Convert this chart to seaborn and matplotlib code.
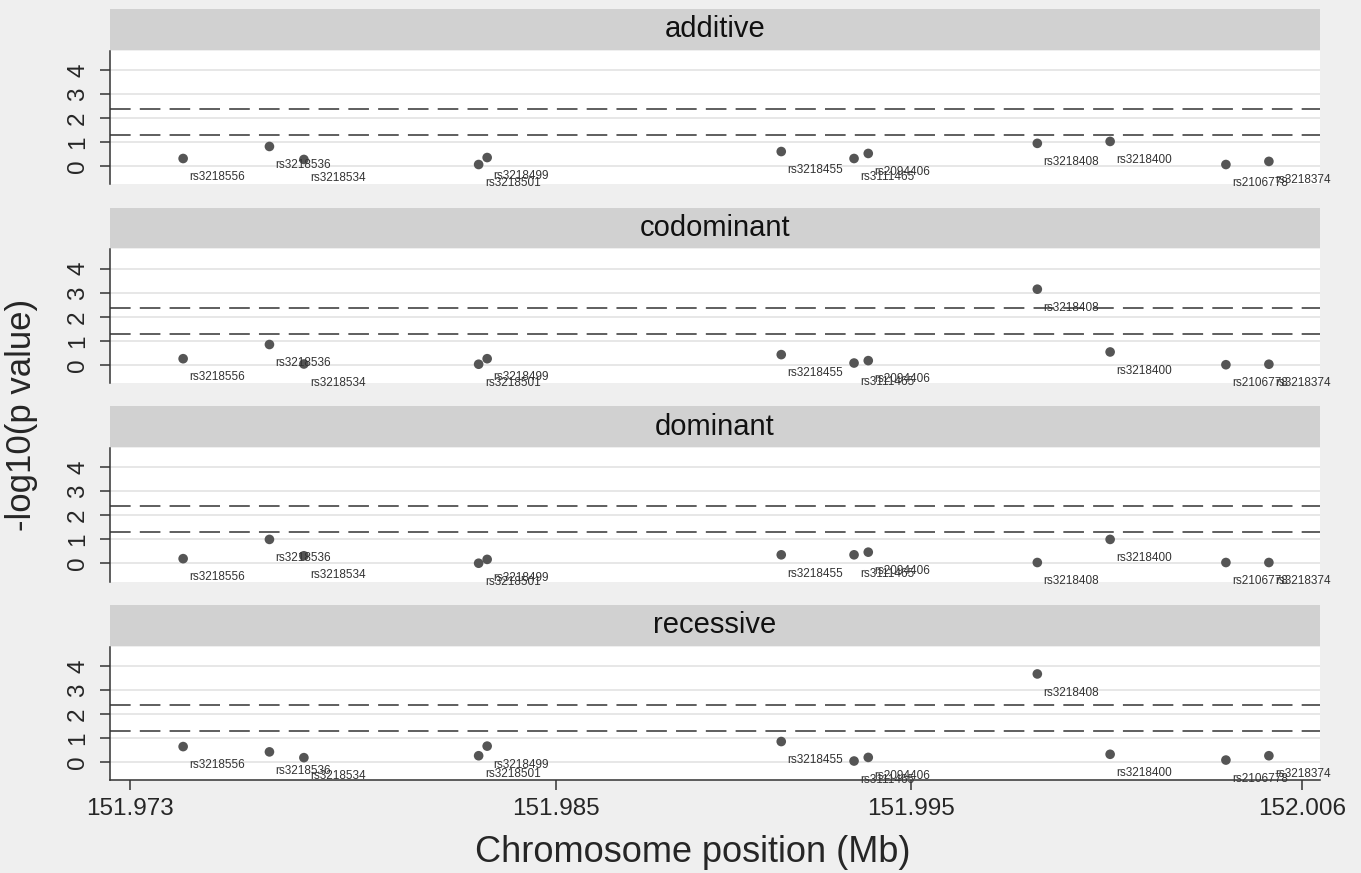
import numpy as np
import pandas as pd
import seaborn as sns
import matplotlib.pyplot as plt
from matplotlib.patches import Rectangle

snps = ['rs3218556', 'rs3218536', 'rs3218534', 'rs3218501', 'rs3218499', 'rs3218455',
        'rs3111465', 'rs2094406', 'rs3218408', 'rs3218400', 'rs2106778', 'rs3218374']
pos_mb = [151.97450, 151.97693, 151.97790, 151.98282, 151.98306, 151.99134,
          151.99339, 151.99379, 151.99855, 152.00060, 152.00386, 152.00507]

models = ['additive', 'codominant', 'dominant', 'recessive']
additive = [0.33, 0.83, 0.29, 0.08, 0.37, 0.62, 0.33, 0.54, 0.96, 1.04, 0.08, 0.21]
codominant = [0.26, 0.85, 0.04, 0.03, 0.26, 0.43, 0.08, 0.18, 3.15, 0.54, 0.01, 0.03]
dominant = [0.20, 1.00, 0.32, 0.01, 0.17, 0.36, 0.36, 0.47, 0.04, 1.00, 0.04, 0.04]
recessive = [0.64, 0.42, 0.18, 0.26, 0.66, 0.85, 0.04, 0.19, 3.66, 0.32, 0.08, 0.26]

thresholds = [1.30, 2.38]
x_ticks = [151.973, 151.985, 151.995, 152.006]
y_ticks = [0, 1, 2, 3, 4]

frames = []
for name, vals in zip(models, [additive, codominant, dominant, recessive]):
    frames.append(pd.DataFrame({'model': name, 'snp': snps, 'pos': pos_mb, 'logp': vals}))
df = pd.concat(frames, ignore_index=True)

sns.set_style('white')
plt.rcParams['font.family'] = ['Liberation Sans', 'DejaVu Sans']

g = sns.FacetGrid(df, row='model', row_order=models, sharex=True, sharey=True,
                  height=2.0, aspect=6.5, despine=False)
g.map_dataframe(sns.scatterplot, x='pos', y='logp', color='#555555', s=48,
                edgecolor='none', zorder=4)
g.set_axis_labels('', '')

fig = g.figure
fig.set_facecolor('#efefef')

for i, (ax, name) in enumerate(zip(g.axes.flat, models)):
    sub = df[df['model'] == name]
    ax.set_title('')
    ax.set_facecolor('white')
    ax.set_xlim(151.97244, 152.00651)
    ax.set_ylim(-0.75, 4.8)
    ax.set_yticks(y_ticks)
    ax.set_yticklabels([str(t) for t in y_ticks])
    ax.grid(axis='y', color='#e3e3e3', lw=1.2, zorder=0)
    ax.grid(axis='x', visible=False)
    for t in thresholds:
        ax.axhline(t, color='#333333', lw=1.1, ls=(0, (13.5, 6.0)), zorder=2)
    for _, r in sub.iterrows():
        ax.annotate(r['snp'], (r['pos'], r['logp']), xytext=(4.5, -13.5),
                    textcoords='offset points', ha='left', va='center',
                    fontsize=8.5, color='#333333', annotation_clip=False, zorder=5)
    for s in ['top', 'right']:
        ax.spines[s].set_visible(False)
    ax.spines['left'].set_color('#333333')
    ax.spines['left'].set_linewidth(1.1)
    ax.tick_params(axis='y', labelrotation=90, labelsize=17.5, pad=8, length=7,
                   width=1.1, color='#333333', left=True)
    for lab in ax.get_yticklabels():
        lab.set_va('center')
    if i < len(models) - 1:
        ax.spines['bottom'].set_visible(False)
        ax.tick_params(axis='x', length=0, labelbottom=False)
    else:
        ax.spines['bottom'].set_color('#333333')
        ax.spines['bottom'].set_linewidth(1.1)
        ax.set_xticks(x_ticks)
        ax.set_xticklabels([f'{t:.3f}' for t in x_ticks])
        ax.tick_params(axis='x', labelsize=17.5, pad=6, length=7, width=1.1,
                       color='#333333', bottom=True)
    # strip header
    ax.add_patch(Rectangle((0, 1.0075), 1, 0.307, transform=ax.transAxes,
                           facecolor='#d1d1d1', edgecolor='none', clip_on=False))
    ax.text(0.5, 1.0075 + 0.1535, name, transform=ax.transAxes, ha='center',
            va='center', fontsize=21, color='#111111')

fig.set_size_inches(13.61, 8.73)
fig.subplots_adjust(left=0.0808, right=0.9699, top=0.9416, bottom=0.1065, hspace=0.487)
fig.text(0.016, 0.525, '-log10(p value)', rotation=90, ha='center', va='center', fontsize=25)
fig.text(0.509, 0.024, 'Chromosome position (Mb)', ha='center', va='center', fontsize=26)

fig.savefig('out.png', dpi=100, facecolor=fig.get_facecolor())
